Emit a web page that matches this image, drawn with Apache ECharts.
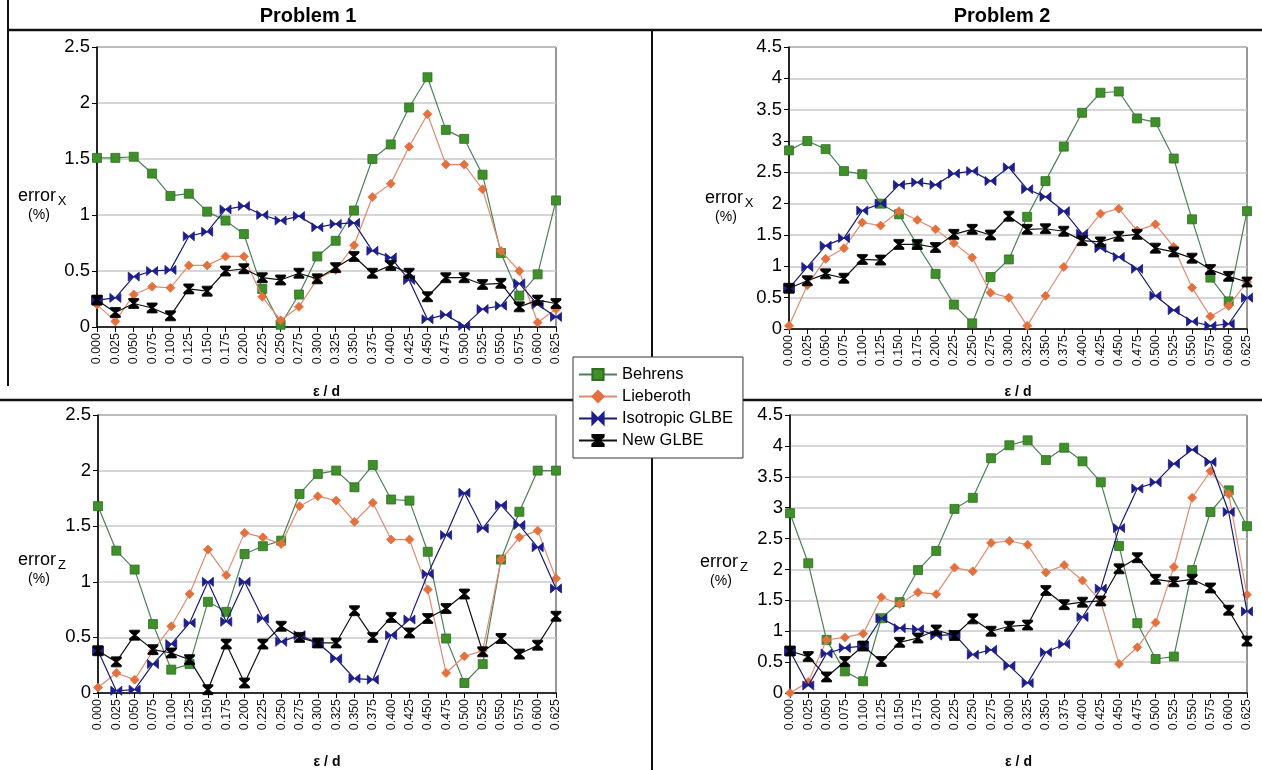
<!DOCTYPE html>
<html><head><meta charset="utf-8">
<script src="https://cdn.jsdelivr.net/npm/echarts@6/dist/echarts.min.js"></script>
<style>html,body{margin:0;padding:0;background:#fff}#c{width:1262px;height:770px}</style>
</head><body><div id="c"></div>
<script>
const categories = ['0.000','0.025','0.050','0.075','0.100','0.125','0.150','0.175','0.200','0.225','0.250','0.275','0.300','0.325','0.350','0.375','0.400','0.425','0.450','0.475','0.500','0.525','0.550','0.575','0.600','0.625'];
const seriesNames = ['Behrens','Lieberoth','Isotropic GLBE','New GLBE'];
const panelTitles = ['Problem 1','Problem 2'];
const yTicks1 = [0,0.5,1,1.5,2,2.5];
const yTicks2 = [0,0.5,1,1.5,2,2.5,3,3.5,4,4.5];

// Problem 1, error_x
const p1x_behrens   = [1.51,1.51,1.52,1.37,1.17,1.19,1.03,0.95,0.83,0.34,0.02,0.29,0.63,0.77,1.04,1.50,1.63,1.96,2.23,1.76,1.68,1.36,0.66,0.28,0.47,1.13];
const p1x_lieberoth = [0.20,0.05,0.29,0.36,0.35,0.55,0.55,0.63,0.63,0.27,0.06,0.18,0.43,0.51,0.73,1.16,1.28,1.61,1.90,1.45,1.45,1.23,0.68,0.50,0.04,0.16];
const p1x_isotropic = [0.24,0.26,0.45,0.50,0.51,0.81,0.85,1.05,1.08,1.00,0.95,0.99,0.89,0.92,0.93,0.68,0.62,0.42,0.07,0.11,0.01,0.16,0.19,0.39,0.20,0.09];
const p1x_newglbe   = [0.24,0.13,0.21,0.17,0.10,0.34,0.32,0.50,0.52,0.44,0.42,0.48,0.43,0.53,0.63,0.48,0.55,0.48,0.27,0.44,0.44,0.38,0.39,0.18,0.24,0.21];
// Problem 2, error_x
const p2x_behrens   = [2.85,3.00,2.87,2.52,2.47,2.00,1.83,1.34,0.88,0.39,0.09,0.83,1.11,1.79,2.36,2.91,3.45,3.77,3.79,3.36,3.30,2.72,1.75,0.82,0.44,1.88];
const p2x_lieberoth = [0.05,0.70,1.12,1.29,1.70,1.65,1.88,1.74,1.59,1.37,1.14,0.58,0.50,0.05,0.53,0.99,1.47,1.84,1.92,1.57,1.67,1.31,0.66,0.20,0.37,0.75];
const p2x_isotropic = [0.65,0.99,1.33,1.45,1.89,2.00,2.30,2.34,2.30,2.48,2.52,2.36,2.58,2.23,2.11,1.88,1.52,1.29,1.15,0.96,0.53,0.30,0.12,0.05,0.08,0.50];
const p2x_newglbe   = [0.65,0.77,0.88,0.81,1.11,1.10,1.35,1.35,1.30,1.51,1.59,1.50,1.80,1.59,1.60,1.56,1.41,1.39,1.48,1.51,1.29,1.23,1.13,0.95,0.84,0.75];
// Problem 1, error_z
const p1z_behrens   = [1.68,1.28,1.11,0.62,0.21,0.26,0.82,0.73,1.25,1.32,1.37,1.79,1.97,2.00,1.85,2.05,1.74,1.73,1.27,0.49,0.09,0.26,1.20,1.63,2.00,2.00];
const p1z_lieberoth = [0.05,0.18,0.12,0.38,0.60,0.89,1.29,1.06,1.44,1.40,1.34,1.68,1.77,1.73,1.54,1.71,1.38,1.38,0.93,0.18,0.33,0.38,1.20,1.40,1.46,1.03];
const p1z_isotropic = [0.38,0.02,0.03,0.26,0.44,0.63,1.00,0.64,1.00,0.67,0.46,0.52,0.45,0.31,0.13,0.12,0.52,0.66,1.07,1.42,1.80,1.48,1.69,1.51,1.31,0.94];
const p1z_newglbe   = [0.38,0.28,0.52,0.39,0.36,0.30,0.03,0.44,0.09,0.44,0.60,0.50,0.45,0.45,0.74,0.50,0.68,0.54,0.67,0.76,0.89,0.37,0.49,0.35,0.43,0.69];
// Problem 2, error_z
const p2z_behrens   = [2.91,2.10,0.86,0.35,0.19,1.21,1.47,1.99,2.30,2.98,3.16,3.80,4.01,4.09,3.77,3.97,3.75,3.41,2.38,1.13,0.55,0.59,1.99,2.93,3.28,2.70];
const p2z_lieberoth = [0.00,0.18,0.86,0.90,0.96,1.55,1.44,1.63,1.60,2.03,1.97,2.43,2.46,2.40,1.95,2.07,1.82,1.48,0.47,0.74,1.14,2.04,3.16,3.59,3.22,1.59];
const p2z_isotropic = [0.68,0.12,0.64,0.73,0.76,1.21,1.05,1.03,0.93,0.95,0.62,0.70,0.44,0.16,0.66,0.79,1.23,1.69,2.67,3.31,3.41,3.71,3.94,3.74,2.93,1.32];
const p2z_newglbe   = [0.68,0.59,0.26,0.51,0.76,0.51,0.82,0.89,1.02,0.93,1.20,1.00,1.08,1.10,1.66,1.43,1.47,1.49,2.01,2.19,1.84,1.80,1.84,1.70,1.34,0.84];

const FONT = 'Liberation Sans, Arial, sans-serif';
const styles = [
  {symbol:'rect', size:9, color:'#3f8f2a', border:'#2e6e1f', line:'#4a8257'},
  {symbol:'diamond', size:9, color:'#e4703e', border:'#e4703e', line:'#e08a70'},
  {symbol:'path://M0,0L10,5L0,10Z M20,0L10,5L20,10Z', size:[11,9], color:'#1d1d8c', border:'#1d1d8c', line:'#1a1a72'},
  {symbol:'path://M0,0L10,0L10,1.6L6,5L10,8.4L10,10L0,10L0,8.4L4,5L0,1.6Z', size:[10,10], color:'#000', border:'#000', line:'#111'}
];
const panels = [
  {data:[p1x_behrens,p1x_lieberoth,p1x_isotropic,p1x_newglbe], max:2.5, gap:58, grid:{left:97, top:47, width:459, height:280}},
  {data:[p2x_behrens,p2x_lieberoth,p2x_isotropic,p2x_newglbe], max:4.5, gap:56, grid:{left:789, top:47, width:458, height:282}},
  {data:[p1z_behrens,p1z_lieberoth,p1z_isotropic,p1z_newglbe], max:2.5, gap:62, grid:{left:98, top:415, width:458, height:281}},
  {data:[p2z_behrens,p2z_lieberoth,p2z_isotropic,p2z_newglbe], max:4.5, gap:62, grid:{left:790, top:415, width:457, height:281}}
];

const grid = [], xAxis = [], yAxis = [], series = [];
panels.forEach((p, k) => {
  grid.push(Object.assign({show:true, borderColor:'#333', borderWidth:1, backgroundColor:'transparent'}, p.grid));
  xAxis.push({
    type:'category', gridIndex:k, data:categories, boundaryGap:false,
    name:'ε / d', nameLocation:'middle', nameGap:p.gap,
    nameTextStyle:{fontFamily:FONT, fontWeight:'bold', fontSize:14, color:'#000'},
    axisLine:{lineStyle:{color:'#000', width:1.5}},
    axisTick:{show:true, alignWithLabel:true, length:5, lineStyle:{color:'#000'}},
    axisLabel:{rotate:90, fontFamily:FONT, fontSize:12.5, color:'#111', margin:6, interval:0},
    splitLine:{show:false}
  });
  yAxis.push({
    type:'value', gridIndex:k, min:0, max:p.max, interval:0.5,
    axisLine:{show:true, lineStyle:{color:'#000', width:1.5}},
    axisTick:{show:true, length:5, lineStyle:{color:'#000'}},
    axisLabel:{fontFamily:FONT, fontSize:18.5, color:'#000', margin:7},
    splitLine:{show:true, lineStyle:{color:'#c8c8c8', width:1.5}}
  });
  p.data.forEach((vals, s) => {
    const st = styles[s];
    series.push({
      type:'line', name:seriesNames[s], xAxisIndex:k, yAxisIndex:k, data:vals,
      symbol:st.symbol, symbolSize:st.size, showAllSymbol:true,
      lineStyle:{color:st.line, width:1.2},
      itemStyle:{color:st.color, borderColor:st.border, borderWidth:0.8},
      emphasis:{disabled:true}, animation:false, z:3+s
    });
  });
});

function ylabel(x, y, sub) {
  return [
    {type:'text', x:x, y:y, z:10, style:{text:'error', font:'18px '+FONT, fill:'#000', textAlign:'center', textVerticalAlign:'middle'}},
    {type:'text', x:x+25, y:y+5, z:10, style:{text:sub, font:'13px '+FONT, fill:'#000', textAlign:'center', textVerticalAlign:'middle'}},
    {type:'text', x:x+2, y:y+19, z:10, style:{text:'(%)', font:'14px '+FONT, fill:'#000', textAlign:'center', textVerticalAlign:'middle'}}
  ];
}
function line(x1,y1,x2,y2,w){return {type:'line', z:0, shape:{x1:x1,y1:y1,x2:x2,y2:y2}, style:{stroke:'#111', lineWidth:w||2}};}

const graphic = [
  {type:'text', x:308, y:16, z:10, style:{text:panelTitles[0], font:'bold 20px '+FONT, fill:'#000', textAlign:'center', textVerticalAlign:'middle'}},
  {type:'text', x:1002, y:16, z:10, style:{text:panelTitles[1], font:'bold 20px '+FONT, fill:'#000', textAlign:'center', textVerticalAlign:'middle'}},
  line(8,30,1262,30,2.5),
  line(8,0,8,386,2),
  line(0,400,1262,400,2.5),
  line(652,30,652,770,2),
  ...ylabel(37,196,'X'),
  ...ylabel(724,198,'X'),
  ...ylabel(37,560,'Z'),
  ...ylabel(719,562,'Z')
];

const chart = echarts.init(document.getElementById('c'), null, {renderer:'canvas'});
chart.setOption({
  animation:false,
  backgroundColor:'#fff',
  grid, xAxis, yAxis, series, graphic,
  legend:{
    data:seriesNames, orient:'vertical', left:573, top:357,
    backgroundColor:'#fff', borderColor:'#333', borderWidth:1,
    padding:[9,10,9,5], itemGap:5, itemWidth:38, itemHeight:14,
    textStyle:{fontFamily:FONT, fontSize:16.5, color:'#000'}, z:20
  }
});
</script></body></html>
